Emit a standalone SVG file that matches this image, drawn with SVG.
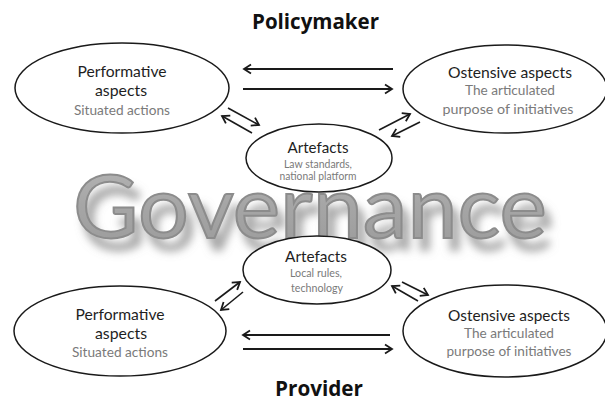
<svg xmlns="http://www.w3.org/2000/svg" width="605" height="401" viewBox="0 0 605 401">
  <defs>
    <marker id="open-head" markerUnits="userSpaceOnUse" viewBox="-9 -6 11 12" refX="0" refY="0" markerWidth="11" markerHeight="12" orient="auto">
      <path d="M-7,-4.5 L0,0 L-7,4.5" fill="none" stroke="#1a1a1a" stroke-width="1.8" stroke-linejoin="miter"/>
    </marker>
    <linearGradient id="word-fill" x1="0" y1="0" x2="0" y2="1">
      <stop offset="0" stop-color="#b8b8b8"/>
      <stop offset="0.5" stop-color="#a6a6a6"/>
      <stop offset="1" stop-color="#9a9a9a"/>
    </linearGradient>
    <!-- soft grey drop shadow under the big word -->
    <filter id="drop-shadow" x="-5%" y="-20%" width="115%" height="160%">
      <feGaussianBlur in="SourceAlpha" stdDeviation="4.5" result="blur"/>
      <feOffset in="blur" dx="7" dy="12" result="shifted"/>
      <feFlood flood-color="#8a8a8a" flood-opacity="0.75"/>
      <feComposite in2="shifted" operator="in" result="shadow"/>
      <feMerge>
        <feMergeNode in="shadow"/>
        <feMergeNode in="SourceGraphic"/>
      </feMerge>
    </filter>
  </defs>
  <style>
    .title { font-family: "Open Sans", "Noto Sans", "DejaVu Sans", sans-serif; font-weight: 700; font-size: 22px; fill: #111; text-anchor: middle; }
    .head { font-family: Lato, "Open Sans", "DejaVu Sans", sans-serif; font-size: 15px; fill: #1e1e1e; text-anchor: middle; }
    .sub { font-family: Lato, "Open Sans", "DejaVu Sans", sans-serif; font-size: 13.5px; fill: #7a7a7a; text-anchor: middle; }
    .small { font-family: Lato, "Open Sans", "DejaVu Sans", sans-serif; font-size: 10.5px; fill: #7a7a7a; text-anchor: middle; }
    .oval { fill: #fff; stroke: #1a1a1a; stroke-width: 1.5; }
    .link { fill: none; stroke: #1a1a1a; marker-end: url(#open-head); }
    .h { stroke-width: 2; }
    .d { stroke-width: 1.6; }
    .word { font-family: Lato, "Open Sans", "DejaVu Sans", sans-serif; font-size: 88px; }
  </style>

  <rect width="605" height="401" fill="#fff"/>

  <!-- big background word -->
  <g id="governance">
    <text class="word" x="73" y="238" textLength="474" lengthAdjust="spacingAndGlyphs" fill="url(#word-fill)" stroke="#8c8c8c" stroke-width="2" filter="url(#drop-shadow)">Governance</text>
  </g>

  <!-- level titles -->
  <text id="policymaker" class="title" x="315.5" y="29" textLength="127" lengthAdjust="spacingAndGlyphs">Policymaker</text>
  <text id="provider" class="title" x="319" y="396" textLength="88" lengthAdjust="spacingAndGlyphs">Provider</text>

  <!-- connectors -->
  <g id="connectors">
    <line class="link h" x1="393" y1="69" x2="244" y2="69"/>
    <line class="link h" x1="243" y1="89" x2="392" y2="89"/>
    <line class="link d" x1="228" y1="108" x2="259" y2="125"/>
    <line class="link d" x1="252" y1="133" x2="222" y2="116"/>
    <line class="link d" x1="379" y1="130" x2="410" y2="114"/>
    <line class="link d" x1="420" y1="122" x2="392" y2="136"/>
    <line class="link d" x1="215" y1="301" x2="240" y2="282"/>
    <line class="link d" x1="243" y1="292" x2="221" y2="310"/>
    <line class="link d" x1="418" y1="301" x2="392" y2="286"/>
    <line class="link d" x1="402" y1="282" x2="428" y2="295"/>
    <line class="link h" x1="390" y1="335" x2="243" y2="335"/>
    <line class="link h" x1="243" y1="349" x2="392" y2="349"/>
  </g>

  <!-- policymaker level -->
  <g id="pm-performative">
    <ellipse class="oval" cx="122" cy="88" rx="107" ry="45"/>
    <text class="head" x="122" y="77" textLength="89" lengthAdjust="spacingAndGlyphs">Performative</text>
    <text class="head" x="121" y="96" textLength="52" lengthAdjust="spacingAndGlyphs">aspects</text>
    <text class="sub" x="122" y="115" textLength="96" lengthAdjust="spacingAndGlyphs">Situated actions</text>
  </g>
  <g id="pm-ostensive">
    <ellipse class="oval" cx="505" cy="89" rx="102" ry="44"/>
    <text class="head" x="510" y="78" textLength="124" lengthAdjust="spacingAndGlyphs">Ostensive aspects</text>
    <text class="sub" x="510" y="95" textLength="90" lengthAdjust="spacingAndGlyphs">The articulated</text>
    <text class="sub" x="508" y="114" textLength="131" lengthAdjust="spacingAndGlyphs">purpose of initiatives</text>
  </g>
  <g id="pm-artefacts">
    <ellipse class="oval" cx="319" cy="158" rx="73" ry="34"/>
    <text class="head" x="318" y="153" textLength="61" lengthAdjust="spacingAndGlyphs">Artefacts</text>
    <text class="small" x="318" y="168" textLength="68" lengthAdjust="spacingAndGlyphs">Law standards,</text>
    <text class="small" x="318" y="180" textLength="77" lengthAdjust="spacingAndGlyphs">national platform</text>
  </g>

  <!-- provider level -->
  <g id="pv-artefacts">
    <ellipse class="oval" cx="317" cy="270" rx="74" ry="34"/>
    <text class="head" x="316" y="262" textLength="62" lengthAdjust="spacingAndGlyphs">Artefacts</text>
    <text class="small" x="316" y="277" textLength="52" lengthAdjust="spacingAndGlyphs">Local rules,</text>
    <text class="small" x="317" y="292" textLength="52" lengthAdjust="spacingAndGlyphs">technology</text>
  </g>
  <g id="pv-performative">
    <ellipse class="oval" cx="120" cy="331" rx="106" ry="45"/>
    <text class="head" x="120" y="320" textLength="89" lengthAdjust="spacingAndGlyphs">Performative</text>
    <text class="head" x="121" y="339" textLength="52" lengthAdjust="spacingAndGlyphs">aspects</text>
    <text class="sub" x="120" y="357" textLength="96" lengthAdjust="spacingAndGlyphs">Situated actions</text>
  </g>
  <g id="pv-ostensive">
    <ellipse class="oval" cx="505" cy="331" rx="102" ry="46"/>
    <text class="head" x="509" y="321" textLength="122" lengthAdjust="spacingAndGlyphs">Ostensive aspects</text>
    <text class="sub" x="509" y="338" textLength="90" lengthAdjust="spacingAndGlyphs">The articulated</text>
    <text class="sub" x="509" y="356" textLength="125" lengthAdjust="spacingAndGlyphs">purpose of initiatives</text>
  </g>
</svg>
